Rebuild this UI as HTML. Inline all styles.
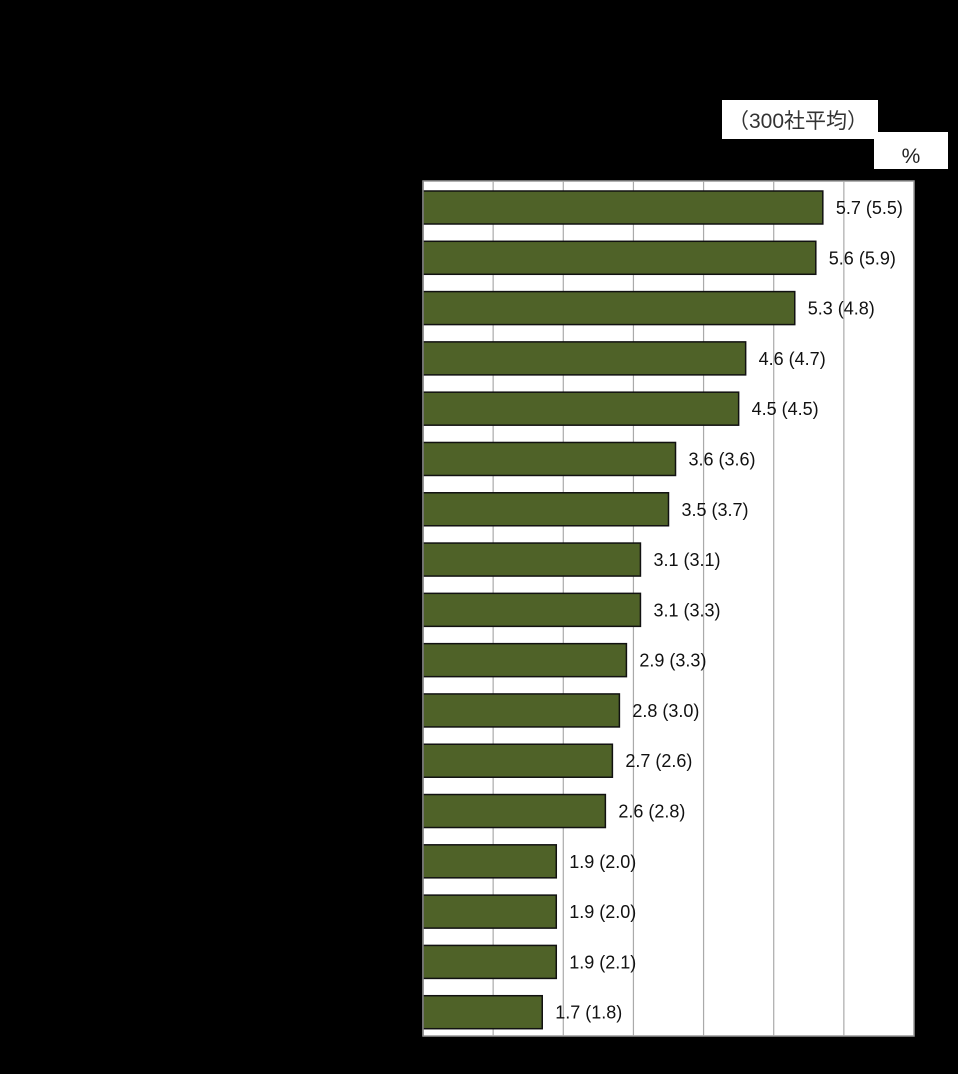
<!DOCTYPE html>
<html><head><meta charset="utf-8"><style>
body{margin:0;background:#000;width:958px;height:1069px;overflow:hidden;font-family:"Liberation Sans","Noto Sans CJK JP",sans-serif}
</style></head><body>
<svg width="958" height="1069" xmlns="http://www.w3.org/2000/svg">
<rect x="722" y="100" width="156" height="39" fill="#fff"/>
<text x="728" y="128" font-size="21" fill="#333" font-family="Liberation Sans,Noto Sans CJK JP,sans-serif">（300社平均）</text>
<rect x="874" y="132" width="74" height="37" fill="#fff"/>
<text x="911" y="163" font-size="21" text-anchor="middle" fill="#222">%</text>
<g id="plot"></g>
</svg>
<script>
const values=[5.7,5.6,5.3,4.6,4.5,3.6,3.5,3.1,3.1,2.9,2.8,2.7,2.6,1.9,1.9,1.9,1.7];
const avgValues=["5.5","5.9","4.8","4.7","4.5","3.6","3.7","3.1","3.3","3.3","3.0","2.6","2.8","2.0","2.0","2.1","1.8"];
const ticks=[0,1,2,3,4,5,6,7];
const NS="http://www.w3.org/2000/svg";
const X0=423,X1=914,Y0=181,Y1=1036,XMAX=7;
const xs=v=>X0+v/XMAX*(X1-X0);
const band=(Y1-Y0)/values.length;
const ys=i=>Y0+i*band;
const g=document.getElementById('plot');
function mk(t,a){const e=document.createElementNS(NS,t);for(const k in a)e.setAttribute(k,a[k]);g.appendChild(e);return e;}
let bg=mk('rect',{x:X0,y:Y0,width:X1-X0,height:Y1-Y0,fill:'#fff',stroke:'#999','stroke-width':1.5});


ticks.slice(1,-1).forEach(t=>{
 const l=mk('line',{x1:xs(t),x2:xs(t),y1:Y0,y2:Y1,stroke:'#aaa','stroke-width':1.2});
 
 
});
values.forEach((v,i)=>{
 const r=mk('rect',{x:X0,y:ys(i)+10,width:xs(v)-X0,height:33,fill:'#4f6228',stroke:'#111','stroke-width':1.5});
 
 
 const t=mk('text',{x:xs(v)+13,y:ys(i)+33,'font-size':18,fill:'#111'});
 t.textContent=v.toFixed(1)+' ('+avgValues[i]+')';
 
 
});
const ax=mk('line',{x1:X0,x2:X0,y1:Y0,y2:Y1,stroke:'#888','stroke-width':1.5});


</script>
</body></html>
